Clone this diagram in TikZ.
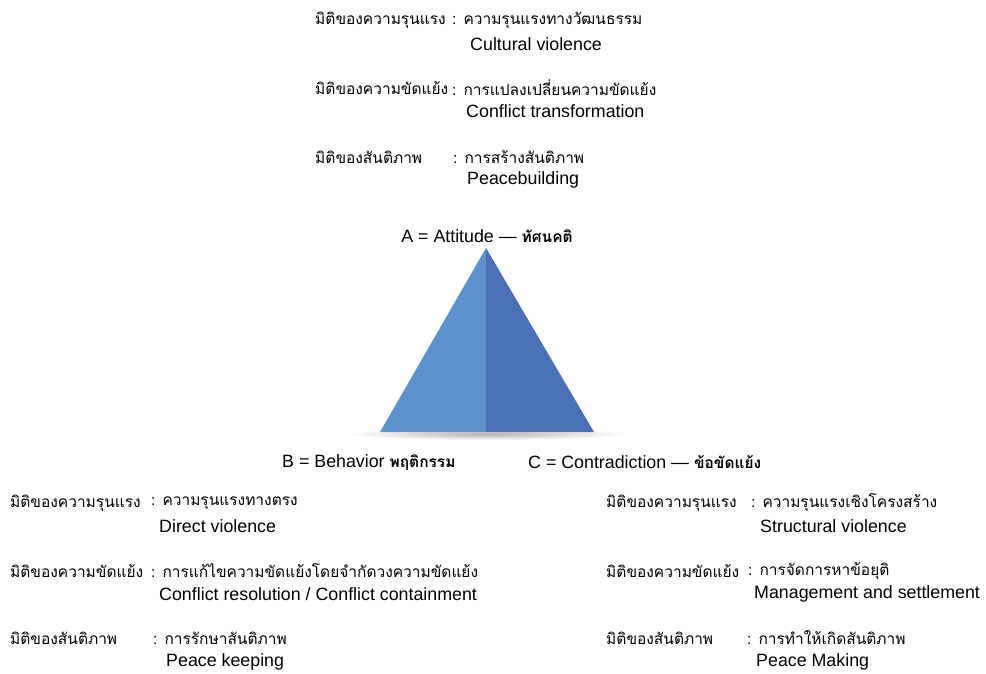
\documentclass[tikz,border=0pt]{standalone}
\usepackage{fontspec}
\setmainfont{Liberation Sans}
\newfontfamily\thaifont[Script=Thai,Scale=0.87]{Loma}
\definecolor{faceleft}{RGB}{94,146,205}
\definecolor{faceright}{RGB}{74,112,182}

\begin{document}
\begin{tikzpicture}[x=0.03cm, y=-0.03cm,
    txt/.style={anchor=west, inner sep=0pt, font=\fontsize{15.2}{18}\selectfont},
    thtxt/.style={txt, font=\fontsize{15.2}{18}\selectfont\thaifont}]
  \useasboundingbox (0,0) rectangle (986,673);

  % Cultural violence (top)
  \node[thtxt] (cultLbl) at (315,20) {มิติของความรุนแรง};
  \node[thtxt] (cultVal) at (452,20) {: ความรุนแรงทางวัฒนธรรม};
  \node[txt] (cultEn) at (470,44) {Cultural violence};

  \node[thtxt] (transLbl) at (315,88) {มิติของความขัดแย้ง};
  \node[thtxt] (transVal) at (452,88) {: การแปลงเปลี่ยนความขัดแย้ง};
  \node[txt] (transEn) at (466,111) {Conflict transformation};

  \node[thtxt] (buildLbl) at (315,157) {มิติของสันติภาพ};
  \node[thtxt] (buildVal) at (453,157) {: การสร้างสันติภาพ};
  \node[txt] (buildEn) at (467,180) {Peacebuilding};

  % Triangle
  \coordinate (apex) at (486,248);
  \coordinate (baseL) at (380,432);
  \coordinate (baseM) at (486,432);
  \coordinate (baseR) at (594,432);
  \shade[inner color=gray!60, outer color=white] (487,434) ellipse (140 and 6);
  \fill[faceleft] (apex) -- (baseL) -- (baseM) -- cycle;
  \fill[faceright] (apex) -- (baseM) -- (baseR) -- cycle;

  % Corner labels
  \node[txt, anchor=center] (attA) at (487,236) {A = Attitude — {\thaifont\bfseries ทัศนคติ}};
  \node[txt] (behB) at (282,462) {B = Behavior {\thaifont\bfseries พฤติกรรม}};
  \node[txt] (conC) at (528,462) {C = Contradiction — {\thaifont\bfseries ข้อขัดแย้ง}};

  % Direct violence (bottom left)
  \node[thtxt] (dirLbl) at (10,503) {มิติของความรุนแรง};
  \node[thtxt] (dirVal) at (151,503) {: ความรุนแรงทางตรง};
  \node[txt] (dirEn) at (159,526) {Direct violence};

  \node[thtxt] (resLbl) at (10,571) {มิติของความขัดแย้ง};
  \node[thtxt] (resVal) at (151,571) {: การแก้ไขความขัดแย้งโดยจำกัดวงความขัดแย้ง};
  \node[txt] (resEn) at (159,594) {Conflict resolution / Conflict containment};

  \node[thtxt] (keepLbl) at (10,638) {มิติของสันติภาพ};
  \node[thtxt] (keepVal) at (153,638) {: การรักษาสันติภาพ};
  \node[txt] (keepEn) at (166,662) {Peace keeping};

  % Structural violence (bottom right)
  \node[thtxt] (strLbl) at (606,503) {มิติของความรุนแรง};
  \node[thtxt] (strVal) at (751,503) {: ความรุนแรงเชิงโครงสร้าง};
  \node[txt] (strEn) at (760,526) {Structural violence};

  \node[thtxt] (manLbl) at (606,571) {มิติของความขัดแย้ง};
  \node[thtxt] (manVal) at (748,571) {: การจัดการหาข้อยุติ};
  \node[txt] (manEn) at (754,594) {Management and settlement};

  \node[thtxt] (makeLbl) at (606,638) {มิติของสันติภาพ};
  \node[thtxt] (makeVal) at (747,638) {: การทำให้เกิดสันติภาพ};
  \node[txt] (makeEn) at (756,662) {Peace Making};
\end{tikzpicture}
\end{document}
